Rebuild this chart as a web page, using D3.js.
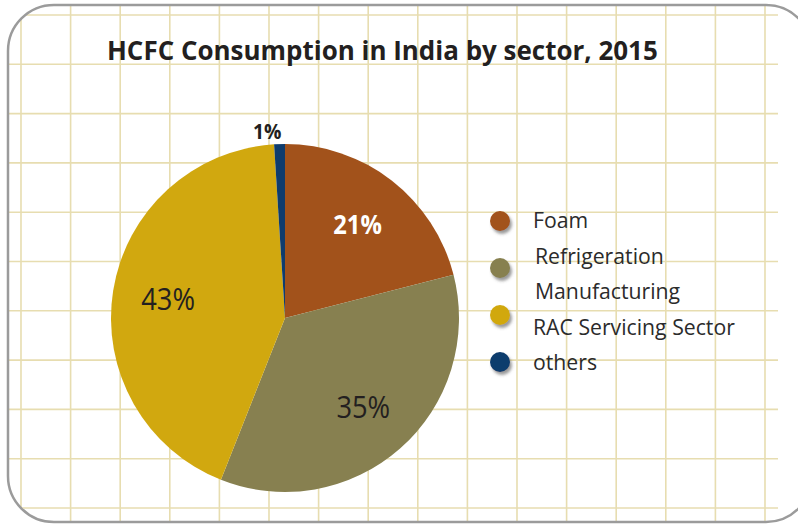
<!DOCTYPE html>
<html>
<head>
<meta charset="utf-8">
<script src="https://cdn.jsdelivr.net/npm/d3@7"></script>
<style>
  html, body { margin: 0; padding: 0; background: #fff; }
  svg { display: block; }
</style>
</head>
<body>
<svg id="chart"></svg>
<script>
// Data
const sectors = ['Foam', 'Refrigeration Manufacturing', 'RAC Servicing Sector', 'others'];
const shares = [21, 35, 43, 1];
const sectorColors = ['#a2521b', '#878050', '#d1a80f', '#0e3c6d'];
const labelColors = ['#ffffff', '#231f20', '#231f20', '#231f20'];
const legendLines = [['Foam'], ['Refrigeration', 'Manufacturing'], ['RAC Servicing Sector'], ['others']];
const title = 'HCFC Consumption in India by sector, 2015';

const width = 798;
const height = 524;
const font = '"Open Sans", "DejaVu Sans", sans-serif';

const svg = d3.select('#chart')
  .attr('width', width)
  .attr('height', height)
  .attr('viewBox', `0 0 ${width} ${height}`);

const defs = svg.append('defs');

// Rounded panel clip
defs.append('clipPath').attr('id', 'panel-clip')
  .append('rect')
  .attr('x', 8).attr('y', 5)
  .attr('width', 804).attr('height', 517)
  .attr('rx', 46).attr('ry', 46);

const shadow = defs.append('filter').attr('id', 'dot-shadow')
  .attr('x', '-50%').attr('y', '-50%').attr('width', '200%').attr('height', '200%');
shadow.append('feDropShadow')
  .attr('dx', 2).attr('dy', 3).attr('stdDeviation', 1.5)
  .attr('flood-color', '#555').attr('flood-opacity', 0.6);

// Background grid
const grid = svg.append('g').attr('clip-path', 'url(#panel-clip)');
grid.append('rect')
  .attr('x', 0).attr('y', 0).attr('width', width).attr('height', height)
  .attr('fill', '#fff');

const gx = d3.scaleLinear().domain([0, 1]).range([21, 70.6]);
const gy = d3.scaleLinear().domain([0, 1]).range([15, 64.3]);
const gridRight = 778;

grid.selectAll('.v-line')
  .data(d3.range(0, 16))
  .join('line')
  .attr('class', 'v-line')
  .attr('x1', d => gx(d)).attr('x2', d => gx(d))
  .attr('y1', 0).attr('y2', height)
  .attr('stroke', '#e7ddb0')
  .attr('stroke-width', 1.6);

grid.selectAll('.h-line')
  .data(d3.range(0, 11))
  .join('line')
  .attr('class', 'h-line')
  .attr('x1', 0).attr('x2', gridRight)
  .attr('y1', d => gy(d)).attr('y2', d => gy(d))
  .attr('stroke', '#e7ddb0')
  .attr('stroke-width', 1.6);

// Panel border
svg.append('rect')
  .attr('x', 8).attr('y', 5)
  .attr('width', 804).attr('height', 517)
  .attr('rx', 46).attr('ry', 46)
  .attr('fill', 'none')
  .attr('stroke', '#9b9b9b')
  .attr('stroke-width', 2.5);

// Title, sized to the reference width
const titleText = svg.append('text')
  .attr('x', 107)
  .attr('y', 60)
  .attr('font-family', font)
  .attr('font-weight', 700)
  .attr('font-size', 28)
  .attr('fill', '#231f20')
  .text(title);
const tw = titleText.node().getComputedTextLength();
titleText.attr('font-size', 28 * 551 / tw);

// Pie
const cx = 285, cy = 318, radius = 174;
const entries = sectors.map((name, i) => ({ name, value: shares[i], color: sectorColors[i], labelColor: labelColors[i] }));

const pie = d3.pie().sort(null).value(d => d.value);
const arcs = pie(entries);
const arc = d3.arc().innerRadius(0).outerRadius(radius);
const labelArc = d3.arc().innerRadius(radius * 0.68).outerRadius(radius * 0.68);
const outerLabelArc = d3.arc().innerRadius(radius + 13).outerRadius(radius + 13);

const pieG = svg.append('g').attr('transform', `translate(${cx},${cy})`);

pieG.selectAll('.slice')
  .data(arcs)
  .join('path')
  .attr('class', 'slice')
  .attr('d', arc)
  .attr('fill', d => d.data.color);

// Slice labels, slightly condensed like the reference face
pieG.selectAll('.slice-label')
  .data(arcs)
  .join('text')
  .attr('class', 'slice-label')
  .attr('transform', d => {
    const small = d.data.value < 5;
    const [x, y] = small ? outerLabelArc.centroid(d) : labelArc.centroid(d);
    return `translate(${x - (small ? 12 : 0)},${y}) scale(0.88,1)`;
  })
  .attr('text-anchor', 'middle')
  .attr('dy', '0.35em')
  .attr('font-family', font)
  .attr('font-weight', d => (d.data.value < 5 || d.data.labelColor === '#ffffff') ? 700 : 400)
  .attr('font-size', d => d.data.value < 5 ? 22 : (d.data.labelColor === '#ffffff' ? 27 : 31))
  .attr('fill', d => d.data.labelColor)
  .text(d => `${d.data.value}%`);

// Legend: dots spaced per item, text baselines spaced per line
const legend = svg.append('g').attr('transform', 'translate(500,0)');
const dotY = d3.scalePoint().domain(sectors).range([221, 362]);
const lineY = d3.scaleLinear().domain([0, 4]).range([228, 370]);
const firstLine = legendLines.map((_, i) => d3.sum(legendLines.slice(0, i), l => l.length));

const items = legend.selectAll('.legend-item')
  .data(entries)
  .join('g')
  .attr('class', 'legend-item');

items.append('circle')
  .attr('cx', 0)
  .attr('cy', d => dotY(d.name))
  .attr('r', 10)
  .attr('fill', d => d.color)
  .attr('filter', 'url(#dot-shadow)');

const legendTexts = items.append('text')
  .attr('font-family', font)
  .attr('font-size', 20)
  .attr('fill', '#2b2b2b');

legendTexts.each(function(d, i) {
  const lines = legendLines[i];
  const t = d3.select(this);
  lines.forEach((line, j) => {
    t.append('tspan')
      .attr('x', lines.length > 1 ? 35 : 33)
      .attr('y', lineY(firstLine[i] + j))
      .text(line);
  });
});

// Fit legend font to reference width of the longest line
const racNode = legendTexts.filter(d => d.name === 'RAC Servicing Sector').node();
const rw = racNode.getComputedTextLength();
legendTexts.attr('font-size', 20 * 202 / rw);
</script>
</body>
</html>
